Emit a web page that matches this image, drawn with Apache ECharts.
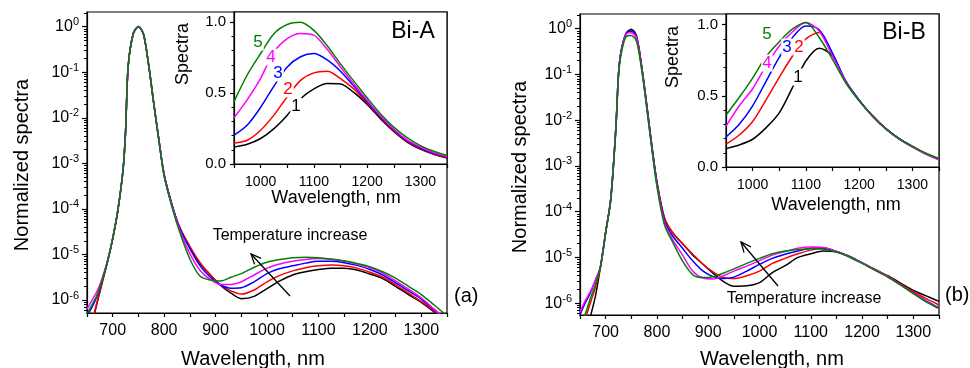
<!DOCTYPE html>
<html>
<head>
<meta charset="utf-8">
<script src="https://cdn.jsdelivr.net/npm/echarts@6/dist/echarts.min.js"></script>
<style>
  html, body { margin: 0; padding: 0; background: #fff; }
  #chart { width: 970px; height: 368px; }
</style>
</head>
<body>
<div id="chart"></div>
<script>
const FONT = '"Liberation Sans", Arial, sans-serif';
const COLORS = ['#000000', '#ff0000', '#0000ff', '#ff00ff', '#008000'];

// main plots: wavelength, nm
const wlMain = [650, 660, 670, 680, 690, 700, 710, 720, 725, 730, 740, 750, 760, 770, 780, 790, 800, 815, 830, 850, 870, 890, 910, 930, 950, 975, 1000, 1025, 1050, 1075, 1100, 1125, 1150, 1175, 1200, 1225, 1250, 1275, 1300, 1325, 1350];

// Bi-A, log10 of normalized spectra (curves 1..5)
const logA1 = [-6.9, -6.5, -6.05, -5.6, -5.15, -4.65, -4.03, -3.15, -2.3, -0.88, -0.15, 0, -0.17, -0.85, -1.7, -2.5, -3.25, -3.9, -4.4, -4.84, -5.2, -5.45, -5.68, -5.85, -5.97, -5.92, -5.75, -5.58, -5.45, -5.38, -5.33, -5.3, -5.3, -5.34, -5.43, -5.53, -5.7, -5.88, -6.05, -6.26, -6.5];
const logA2 = [-6.8, -6.45, -6.02, -5.58, -5.15, -4.65, -4.03, -3.15, -2.3, -0.88, -0.15, 0, -0.17, -0.85, -1.7, -2.5, -3.25, -3.9, -4.4, -4.82, -5.18, -5.45, -5.67, -5.8, -5.87, -5.78, -5.6, -5.46, -5.36, -5.29, -5.25, -5.23, -5.25, -5.3, -5.39, -5.5, -5.66, -5.85, -6.03, -6.24, -6.48];
const logA3 = [-6.35, -6.15, -5.9, -5.55, -5.15, -4.65, -4.03, -3.15, -2.3, -0.88, -0.15, 0, -0.17, -0.85, -1.7, -2.5, -3.25, -3.9, -4.42, -4.87, -5.25, -5.5, -5.67, -5.74, -5.73, -5.6, -5.42, -5.31, -5.25, -5.19, -5.15, -5.15, -5.18, -5.24, -5.33, -5.45, -5.62, -5.8, -5.98, -6.21, -6.45];
const logA4 = [-6.2, -6.0, -5.8, -5.5, -5.13, -4.63, -4.02, -3.15, -2.3, -0.88, -0.15, 0.01, -0.17, -0.85, -1.7, -2.5, -3.25, -3.92, -4.45, -4.98, -5.35, -5.55, -5.66, -5.66, -5.6, -5.45, -5.3, -5.21, -5.15, -5.11, -5.09, -5.11, -5.15, -5.21, -5.29, -5.41, -5.58, -5.76, -5.95, -6.2, -6.43];
const logA5 = [-6.3, -6.1, -5.88, -5.55, -5.15, -4.65, -4.03, -3.15, -2.3, -0.88, -0.15, 0, -0.17, -0.85, -1.7, -2.52, -3.28, -3.95, -4.5, -5.1, -5.48, -5.56, -5.58, -5.5, -5.42, -5.28, -5.17, -5.11, -5.07, -5.06, -5.07, -5.1, -5.14, -5.2, -5.27, -5.38, -5.52, -5.7, -5.88, -6.11, -6.35];

// Bi-B, log10 of normalized spectra (curves 1..5)
const logB1 = [-7.2, -6.7, -6.3, -5.85, -5.2, -4.45, -3.72, -2.15, -1.0, -0.5, -0.1, -0.01, -0.15, -0.8, -1.65, -2.55, -3.35, -4.15, -4.45, -4.7, -4.95, -5.15, -5.35, -5.53, -5.63, -5.62, -5.55, -5.33, -5.18, -5.0, -4.92, -4.86, -4.88, -4.97, -5.12, -5.26, -5.4, -5.56, -5.72, -5.84, -5.96];
const logB2 = [-6.7, -6.35, -6.0, -5.65, -5.2, -4.45, -3.72, -2.15, -1.0, -0.5, -0.1, -0.05, -0.17, -0.8, -1.65, -2.55, -3.35, -4.15, -4.45, -4.7, -4.93, -5.15, -5.32, -5.44, -5.46, -5.4, -5.3, -5.13, -5.02, -4.92, -4.84, -4.8, -4.87, -4.98, -5.12, -5.26, -5.41, -5.58, -5.75, -5.9, -6.04];
const logB3 = [-6.25, -6.0, -5.78, -5.5, -5.2, -4.45, -3.72, -2.15, -1.0, -0.5, -0.1, -0.05, -0.18, -0.82, -1.67, -2.57, -3.37, -4.2, -4.52, -4.8, -5.08, -5.3, -5.42, -5.46, -5.43, -5.3, -5.15, -5.02, -4.93, -4.86, -4.8, -4.79, -4.87, -4.98, -5.12, -5.27, -5.42, -5.6, -5.78, -5.95, -6.1];
const logB4 = [-6.2, -5.95, -5.75, -5.5, -5.2, -4.45, -3.72, -2.15, -1.0, -0.52, -0.12, -0.09, -0.2, -0.84, -1.7, -2.6, -3.4, -4.25, -4.6, -4.95, -5.3, -5.45, -5.47, -5.4, -5.3, -5.19, -5.07, -4.95, -4.87, -4.8, -4.77, -4.78, -4.87, -4.98, -5.12, -5.27, -5.42, -5.6, -5.78, -5.96, -6.11];
const logB5 = [-6.5, -6.25, -5.9, -5.6, -5.2, -4.47, -3.75, -2.2, -1.05, -0.57, -0.17, -0.15, -0.27, -0.88, -1.72, -2.62, -3.45, -4.3, -4.65, -5.08, -5.38, -5.44, -5.42, -5.34, -5.25, -5.13, -5.02, -4.92, -4.86, -4.83, -4.81, -4.82, -4.88, -4.99, -5.13, -5.28, -5.43, -5.6, -5.79, -5.97, -6.12];

// insets: wavelength, nm and linear spectra
const wlInset = [950, 975, 1000, 1025, 1050, 1075, 1100, 1125, 1150, 1175, 1200, 1225, 1250, 1275, 1300, 1325, 1350];
const insA1 = [0.12, 0.14, 0.18, 0.25, 0.345, 0.46, 0.53, 0.568, 0.565, 0.505, 0.42, 0.32, 0.23, 0.155, 0.105, 0.068, 0.042];
const insA2 = [0.148, 0.168, 0.238, 0.345, 0.475, 0.59, 0.643, 0.655, 0.603, 0.53, 0.43, 0.33, 0.235, 0.16, 0.11, 0.07, 0.045];
const insA3 = [0.203, 0.275, 0.4, 0.55, 0.685, 0.757, 0.78, 0.735, 0.655, 0.55, 0.44, 0.335, 0.24, 0.165, 0.115, 0.075, 0.05];
const insA4 = [0.327, 0.455, 0.605, 0.79, 0.885, 0.922, 0.91, 0.81, 0.685, 0.565, 0.45, 0.34, 0.245, 0.17, 0.12, 0.08, 0.052];
const insA5 = [0.44, 0.63, 0.78, 0.92, 0.985, 1.0, 0.943, 0.835, 0.707, 0.585, 0.468, 0.355, 0.26, 0.186, 0.13, 0.09, 0.06];
const insB1 = [0.129, 0.155, 0.195, 0.275, 0.38, 0.56, 0.745, 0.835, 0.78, 0.6, 0.47, 0.36, 0.27, 0.2, 0.145, 0.095, 0.055];
const insB2 = [0.16, 0.225, 0.32, 0.47, 0.63, 0.78, 0.9, 0.945, 0.79, 0.6, 0.47, 0.36, 0.27, 0.2, 0.145, 0.095, 0.055];
const insB3 = [0.211, 0.3, 0.43, 0.6, 0.77, 0.91, 0.99, 0.965, 0.8, 0.605, 0.47, 0.36, 0.27, 0.2, 0.143, 0.093, 0.053];
const insB4 = [0.287, 0.43, 0.55, 0.71, 0.85, 0.95, 1.015, 0.955, 0.78, 0.6, 0.465, 0.355, 0.265, 0.195, 0.14, 0.09, 0.05];
const insB5 = [0.364, 0.49, 0.625, 0.775, 0.88, 0.97, 1.015, 0.91, 0.757, 0.59, 0.465, 0.36, 0.27, 0.2, 0.145, 0.097, 0.06];

// tick labels
const mainXLabels = [700, 800, 900, 1000, 1100, 1200, 1300];
const insetXLabels = [1000, 1100, 1200, 1300];
const decadeTicks = [1e-6, 1e-5, 1e-4, 1e-3, 1e-2, 1e-1, 1];
const insetYLabels = [0, 0.5, 1.0];
const insetYMinor = [0.1, 0.2, 0.3, 0.4, 0.6, 0.7, 0.8, 0.9];

let logMinor = [];
for (let k = -7; k <= 0; k++) {
  for (let m = 2; m <= 9; m++) logMinor.push(m * Math.pow(10, k));
}

function xAxisOf(gridIndex, min, max, labels, fontSize, margin) {
  return {
    type: 'value', gridIndex: gridIndex, min: min, max: max, interval: 50,
    axisLine: { onZero: false, lineStyle: { color: '#000', width: 1.2 } },
    axisTick: { length: 4, lineStyle: { color: '#000', width: 1.2 } },
    axisLabel: {
      margin: margin, fontSize: fontSize, fontFamily: FONT, color: '#000',
      formatter: v => (labels.indexOf(v) >= 0 ? String(v) : '')
    },
    splitLine: { show: false }
  };
}

function logAxisOf(gridIndex, min, max) {
  return [{
    type: 'log', logBase: 10, gridIndex: gridIndex, min: min, max: max, position: 'left',
    axisLine: { lineStyle: { color: '#000', width: 1.2 } },
    axisTick: { length: 5, customValues: decadeTicks, lineStyle: { color: '#000', width: 1.2 } },
    axisLabel: {
      margin: 8, customValues: decadeTicks, color: '#000',
      formatter: v => '{b|10}{s|' + Math.round(Math.log10(v)) + '}',
      rich: {
        b: { fontSize: 16, fontFamily: FONT, color: '#000', lineHeight: 20 },
        s: { fontSize: 11, fontFamily: FONT, color: '#000', verticalAlign: 'top', lineHeight: 12 }
      }
    },
    splitLine: { show: false }
  }, {
    type: 'log', logBase: 10, gridIndex: gridIndex, min: min, max: max, position: 'left',
    axisLine: { show: false },
    axisTick: { length: 3, customValues: logMinor, lineStyle: { color: '#000', width: 1 } },
    axisLabel: { show: false },
    splitLine: { show: false }
  }];
}

function linAxisOf(gridIndex, max) {
  return [{
    type: 'value', gridIndex: gridIndex, min: 0, max: max, position: 'left',
    axisLine: { lineStyle: { color: '#000', width: 1.2 } },
    axisTick: { length: 4, customValues: insetYLabels, lineStyle: { color: '#000', width: 1.2 } },
    axisLabel: {
      margin: 8, customValues: insetYLabels, fontSize: 15, fontFamily: FONT, color: '#000',
      formatter: v => v.toFixed(1)
    },
    splitLine: { show: false }
  }, {
    type: 'value', gridIndex: gridIndex, min: 0, max: max, position: 'left',
    axisLine: { show: false },
    axisTick: { length: 2.5, customValues: insetYMinor, lineStyle: { color: '#000', width: 1 } },
    axisLabel: { show: false },
    splitLine: { show: false }
  }];
}

function lineOf(xs, ys, color, xi, yi, fromLog) {
  return {
    type: 'line', xAxisIndex: xi, yAxisIndex: yi,
    data: xs.map((x, i) => [x, fromLog ? Math.pow(10, ys[i]) : ys[i]]),
    symbol: 'none', smooth: 0.3, clip: true,
    lineStyle: { color: color, width: 1.5 }, itemStyle: { color: color },
    animation: false
  };
}

function text(str, x, y, size, opts) {
  return Object.assign({
    type: 'text', x: x, y: y, z: 100,
    style: Object.assign({
      text: str, font: size + 'px ' + FONT, fill: '#000',
      align: 'center', verticalAlign: 'middle'
    }, (opts && opts.style) || {})
  }, (opts && opts.el) || {});
}

function numLabel(str, x, y, color) {
  return text(str, x, y, 17, { style: { fill: color, backgroundColor: '#fff', padding: [0, 1] } });
}

function arrow(x1, y1, x2, y2) {
  const a = Math.atan2(y2 - y1, x2 - x1);
  const L = 11, w = 0.42;
  const p1 = [x2 - L * Math.cos(a - w), y2 - L * Math.sin(a - w)];
  const p2 = [x2 - L * Math.cos(a + w), y2 - L * Math.sin(a + w)];
  return [
    { type: 'line', z: 100, shape: { x1: x1, y1: y1, x2: x2, y2: y2 }, style: { stroke: '#000', lineWidth: 1.3 } },
    { type: 'polyline', z: 100, shape: { points: [p1, [x2, y2], p2] }, style: { stroke: '#000', fill: null, lineWidth: 1.3 } }
  ];
}

const frame = { show: true, borderColor: '#000', borderWidth: 1.2, backgroundColor: '#fff' };

const mainA = [logA1, logA2, logA3, logA4, logA5];
const mainB = [logB1, logB2, logB3, logB4, logB5];
const insetA = [insA1, insA2, insA3, insA4, insA5];
const insetB = [insB1, insB2, insB3, insB4, insB5];

let series = [];
mainA.forEach((ys, i) => series.push(lineOf(wlMain, ys, COLORS[i], 0, 0, true)));
insetA.forEach((ys, i) => series.push(lineOf(wlInset, ys, COLORS[i], 1, 2, false)));
mainB.forEach((ys, i) => series.push(lineOf(wlMain, ys, COLORS[i], 2, 4, true)));
insetB.forEach((ys, i) => series.push(lineOf(wlInset, ys, COLORS[i], 3, 6, false)));

const option = {
  backgroundColor: '#fff',
  animation: false,
  grid: [
    Object.assign({ left: 87, top: 12, width: 360, height: 301 }, frame),
    Object.assign({ left: 234, top: 12, width: 213, height: 152 }, frame),
    Object.assign({ left: 580, top: 14, width: 359, height: 301 }, frame),
    Object.assign({ left: 726, top: 14, width: 213, height: 153 }, frame)
  ],
  xAxis: [
    xAxisOf(0, 650, 1350, mainXLabels, 16, 10),
    xAxisOf(1, 950, 1350, insetXLabels, 14, 11),
    xAxisOf(2, 650, 1350, mainXLabels, 16, 10),
    xAxisOf(3, 950, 1350, insetXLabels, 14, 11)
  ],
  yAxis: [].concat(
    logAxisOf(0, Math.pow(10, -6.285), Math.pow(10, 0.323)),
    linAxisOf(1, 1.073),
    logAxisOf(2, Math.pow(10, -6.258), Math.pow(10, 0.321)),
    linAxisOf(3, 1.075)
  ),
  series: series,
  graphic: [].concat(
    [
      text('Normalized spectra', 22, 165, 20, { el: { rotation: Math.PI / 2 } }),
      text('Normalized spectra', 520, 167, 20, { el: { rotation: Math.PI / 2 } }),
      text('Wavelength, nm', 253, 359, 20),
      text('Wavelength, nm', 772, 359, 20),
      text('Spectra', 183, 54, 18, { el: { rotation: Math.PI / 2 } }),
      text('Spectra', 673, 57, 18, { el: { rotation: Math.PI / 2 } }),
      text('Wavelength, nm', 336, 198, 18),
      text('Wavelength, nm', 836, 205, 18),
      text('Bi-A', 413, 32, 23),
      text('Bi-B', 904, 33, 23),
      text('(a)', 454, 296, 20, { style: { align: 'left' } }),
      text('(b)', 945, 295, 20, { style: { align: 'left' } }),
      text('Temperature increase', 290, 236, 16),
      text('Temperature increase', 804, 299, 16),
      numLabel('5', 258, 42, COLORS[4]),
      numLabel('4', 271, 57, COLORS[3]),
      numLabel('3', 278, 73, COLORS[2]),
      numLabel('2', 288, 89, COLORS[1]),
      numLabel('1', 296, 106, COLORS[0]),
      numLabel('5', 767, 34, COLORS[4]),
      numLabel('3', 787, 47, COLORS[2]),
      numLabel('2', 799, 47, COLORS[1]),
      numLabel('4', 767, 63, COLORS[3]),
      numLabel('1', 798, 77, COLORS[0])
    ],
    arrow(290, 296, 251, 254),
    arrow(778, 286, 741, 242)
  )
};

const myChart = echarts.init(document.getElementById('chart'));
myChart.setOption(option);
</script>
</body>
</html>
